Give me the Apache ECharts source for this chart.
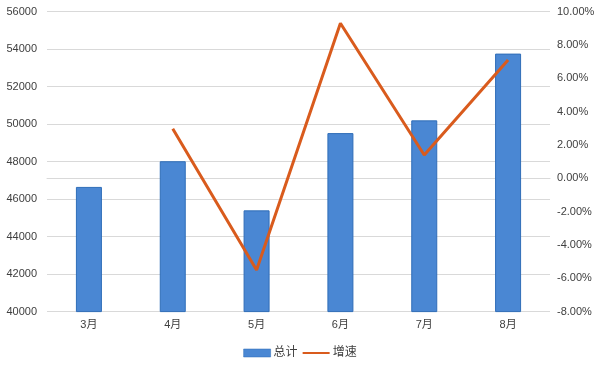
<!DOCTYPE html>
<html>
<head>
<meta charset="utf-8">
<script src="https://cdn.jsdelivr.net/npm/echarts@6/dist/echarts.min.js"></script>
<style>
html,body{margin:0;padding:0;background:#fff;}
#c{width:600px;height:369px;}
</style>
</head>
<body>
<div id="c"></div>
<script>
const categories = ['3月','4月','5月','6月','7月','8月'];
const totalValues = [46650, 48020, 45400, 49520, 50200, 53760];
const growthValues = [null, 2.97, -5.5, 9.3, 1.4, 7.1];
const leftTicks = {min: 40000, max: 56000, interval: 2000};
const rightTicks = {min: -8, max: 10, interval: 2};

const font = 'Liberation Sans, Noto Sans CJK SC, sans-serif';
const chart = echarts.init(document.getElementById('c'), null, {renderer: 'canvas'});
chart.setOption({
  animation: false,
  backgroundColor: '#ffffff',
  grid: {left: 47, right: 50, top: 11.6, bottom: 57.4, containLabel: false},
  legend: {
    bottom: 5,
    left: 'center',
    itemGap: 4,
    itemWidth: 27,
    itemHeight: 8,
    textStyle: {fontFamily: font, fontSize: 12, color: '#404040', padding: [0,0,0,-2]},
    data: [
      {name: '总计', icon: 'rect', itemStyle: {borderWidth: 0.5}},
      {name: '增速', itemStyle: {opacity: 0}}
    ]
  },
  xAxis: {
    type: 'category',
    data: categories,
    axisTick: {show: false},
    axisLine: {lineStyle: {color: '#d9d9d9', width: 1}},
    axisLabel: {fontFamily: font, fontSize: 11, color: '#404040', margin: 8}
  },
  yAxis: [
    {
      type: 'value',
      min: leftTicks.min, max: leftTicks.max, interval: leftTicks.interval,
      axisLine: {show: false}, axisTick: {show: false},
      splitLine: {lineStyle: {color: '#d9d9d9', width: 1}},
      axisLabel: {fontFamily: font, fontSize: 11, color: '#404040', margin: 10,
        formatter: v => String(v)}
    },
    {
      type: 'value',
      min: rightTicks.min, max: rightTicks.max, interval: rightTicks.interval,
      axisLine: {show: false}, axisTick: {show: false},
      splitLine: {show: false},
      axisLabel: {fontFamily: font, fontSize: 11, color: '#404040', margin: 7,
        formatter: v => v.toFixed(2) + '%'}
    }
  ],
  series: [
    {
      name: '总计',
      type: 'bar',
      data: totalValues,
      barWidth: 26,
      itemStyle: {color: '#4a87d3', borderColor: '#2f6db8', borderWidth: 1}
    },
    {
      name: '增速',
      type: 'line',
      yAxisIndex: 1,
      data: growthValues,
      symbol: 'none',
      lineStyle: {color: '#d95b1d', width: 3},
      itemStyle: {color: '#d95b1d'}
    }
  ]
});
</script>
</body>
</html>
